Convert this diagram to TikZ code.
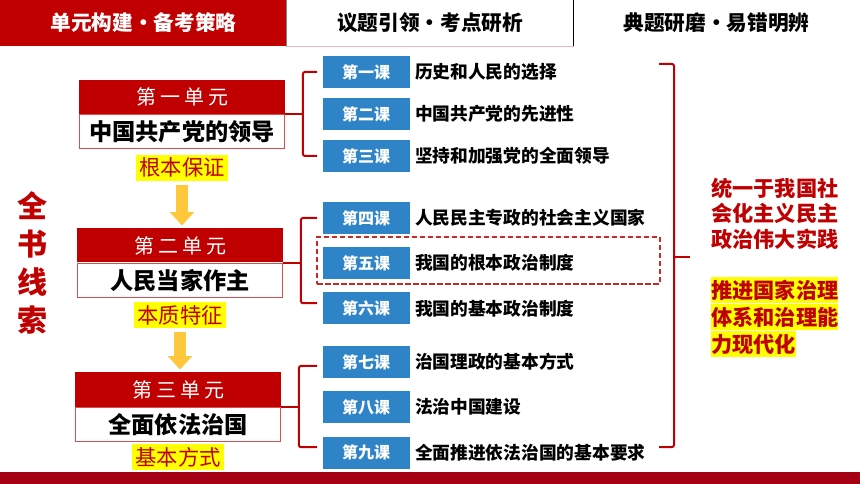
\documentclass[tikz,border=0pt]{standalone}
\usepackage{fontspec}
\setmainfont{Noto Sans CJK SC}
\usetikzlibrary{arrows.meta,positioning}
\definecolor{unitred}{RGB}{192,0,0}
\definecolor{barred}{RGB}{165,0,20}
\definecolor{framered}{RGB}{215,80,80}
\definecolor{dashred}{RGB}{205,40,40}
\definecolor{lessonblue}{RGB}{46,132,198}
\definecolor{arrowgold}{RGB}{255,200,60}
\definecolor{hilite}{RGB}{255,255,0}
\definecolor{tabline}{RGB}{240,180,190}

\begin{document}
\begin{tikzpicture}[
  x=0.75pt, y=-0.75pt,
  tab/.style={minimum width=215pt,minimum height=34.5pt,inner sep=0pt,font=\fontsize{15.5}{18}\selectfont\bfseries},
  unithead/.style={fill=unitred,text=white,minimum width=154pt,minimum height=25.5pt,inner sep=0pt,font=\fontsize{15}{18}\selectfont},
  unitbody/.style={draw=framered,line width=0.8pt,fill=white,minimum width=154pt,minimum height=25.5pt,inner sep=0pt,font=\fontsize{17.4}{20}\selectfont\bfseries},
  keyword/.style={fill=hilite,text=unitred,minimum height=19.5pt,inner xsep=2.25pt,inner ysep=0pt,font=\fontsize{16}{19}\selectfont},
  lesson/.style={fill=lessonblue,text=white,minimum width=65.25pt,minimum height=24pt,inner sep=0pt,font=\fontsize{12}{14}\selectfont\bfseries},
  topic/.style={anchor=west,inner sep=0pt,font=\fontsize{13.3}{16}\selectfont\bfseries},
  brace/.style={draw=unitred,line width=1.5pt,rounded corners=1.5pt},
  flow/.style={draw=arrowgold,line width=9pt,-{Triangle[width=17.5pt,length=10pt]},shorten <=3pt,shorten >=2pt},
  goal/.style={anchor=west,inner sep=0pt,text=unitred,align=left,font=\fontsize{15.9}{19.2}\selectfont\bfseries},
]
\useasboundingbox (0,0) rectangle (860,484);

% ---------- top tabs ----------
\node[tab,fill=unitred,text=white] (tab1) at (143.5,23) {单元构建•备考策略};
\node[tab] (tab2) at (430,23) {议题引领•考点研析};
\node[tab] (tab3) at (716.5,23) {典题研磨•易错明辨};
\draw[black!50] (tab2.north west) -- (tab2.south west);
\draw[black] (tab3.north west) -- (tab3.south west);
\draw[tabline] (tab2.south west) -- (tab2.south east);

\fill[barred] (0,472) rectangle (860,484);

% ---------- main line ----------
\node[text=unitred,align=center,inner sep=0pt,font=\fontsize{22.5}{28.5}\selectfont\bfseries] (theme) at (32,262.5) {全\\书\\线\\索};

% ---------- units ----------
\node[unithead] (u1h) at (182,97) {第\hspace{3pt}一\hspace{3pt}单\hspace{3pt}元};
\node[unitbody,below=0pt of u1h] (u1b) {中国共产党的领导};
\node[keyword,below=3.75pt of u1b] (k1) {根本保证};

\node[unithead] (u2h) at (180,245.5) {第\hspace{3pt}二\hspace{3pt}单\hspace{3pt}元};
\node[unitbody,below=0pt of u2h] (u2b) {人民当家作主};
\node[keyword,below=3pt of u2b] (k2) {本质特征};

\node[unithead] (u3h) at (178,389.5) {第\hspace{3pt}三\hspace{3pt}单\hspace{3pt}元};
\node[unitbody,below=0pt of u3h] (u3b) {全面依法治国};
\node[keyword,below=1.5pt of u3b] (k3) {基本方式};

\draw[flow] (k1.south) -- (k1.south |- u2h.north);
\draw[flow] (k2.south) -- (k2.south |- u3h.north);

% ---------- lessons ----------
\node[draw=dashred,dashed,line width=1.1pt,dash pattern=on 4pt off 2pt,minimum width=257pt,minimum height=35pt] (focus) at (488.5,260.5) {};

\node[lesson] (l1) at (366,72) {第一课};
\node[lesson] (l2) at (366,114) {第二课};
\node[lesson] (l3) at (366,156) {第三课};
\node[lesson] (l4) at (366,218) {第四课};
\node[lesson] (l5) at (366,263) {第五课};
\node[lesson] (l6) at (366,308.5) {第六课};
\node[lesson] (l7) at (366,362) {第七课};
\node[lesson] (l8) at (366,407) {第八课};
\node[lesson] (l9) at (366,452.5) {第九课};

\node[topic,right=3.75pt of l1] (t1) {历史和人民的选择};
\node[topic,right=3.75pt of l2] (t2) {中国共产党的先进性};
\node[topic,right=3.75pt of l3] (t3) {坚持和加强党的全面领导};
\node[topic,right=3.75pt of l4] (t4) {人民民主专政的社会主义国家};
\node[topic,right=3.75pt of l5] (t5) {我国的根本政治制度};
\node[topic,right=3.75pt of l6] (t6) {我国的基本政治制度};
\node[topic,right=3.75pt of l7] (t7) {治国理政的基本方式};
\node[topic,right=3.75pt of l8] (t8) {法治中国建设};
\node[topic,right=3.75pt of l9] (t9) {全面推进依法治国的基本要求};

% ---------- brackets ----------
\coordinate[right=13.5pt of u1h.south east] (b1);
\coordinate[right=13.5pt of u2h.south east] (b2);
\coordinate[right=13.5pt of u3h.south east] (b3);

\draw[brace] (u1h.south east) -- (b1);
\draw[brace] ([xshift=-3.75pt]l1.west) -| (b1) |- ([xshift=-3.75pt]l3.west);
\draw[brace] (u2h.south east) -- (b2);
\draw[brace] ([xshift=-3.75pt]l4.west) -| (b2) |- ([xshift=-3.75pt,yshift=4pt]l6.west);
\draw[brace] (u3h.south east) -- (b3);
\draw[brace] ([xshift=-3.75pt,yshift=-3pt]l7.west) -| (b3) |- ([xshift=-3.75pt,yshift=4pt]l9.west);

\coordinate (rt) at (659,64);
\coordinate (rb) at (659,447);
\coordinate (rx) at (674,257);
\coordinate (rm) at (690,257);
\draw[brace] (rt) -| (rx) |- (rb);
\draw[brace] (rx) -- (rm);

% ---------- goals ----------
\node[goal] (goal1) at (711,213.5) {统一于我国社\\会化主义民主\\政治伟大实践};
\node[goal,fill=hilite,minimum height=19.9pt] (goal2) at (711,290) {推进国家治理};
\node[goal,fill=hilite,minimum height=19.9pt,anchor=north west] (goal3) at (goal2.south west) {体系和治理能};
\node[goal,fill=hilite,minimum height=19.9pt,anchor=north west] (goal4) at (goal3.south west) {力现代化};

\end{tikzpicture}
\end{document}
